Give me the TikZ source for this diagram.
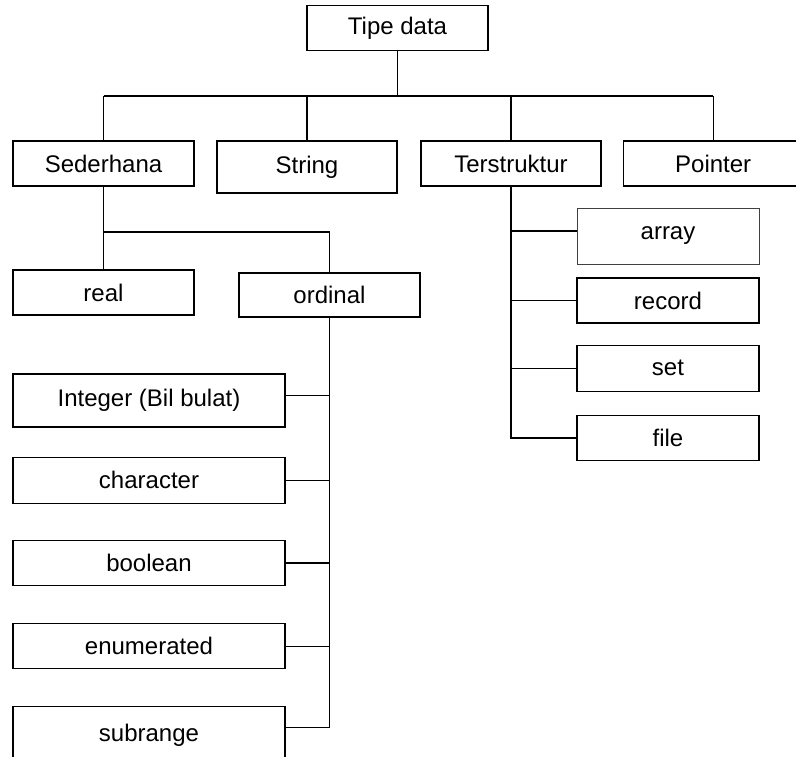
\documentclass[tikz,border=0pt]{standalone}
\usepackage{fontspec}
\setmainfont{Liberation Sans}
\usetikzlibrary{positioning}

\begin{document}
\begin{tikzpicture}[x=1pt,y=-1pt,line width=1.2pt,node distance=20pt,
      box/.style={draw,rectangle,fill=white,inner sep=0pt,minimum width=181pt,
        minimum height=45pt,font=\fontsize{24}{28}\selectfont},
      widebox/.style={box,minimum width=272pt}]

    \path[use as bounding box,clip] (0,0) rectangle (796,756);

    \node[box] (tipe) at (397.5,28) {Tipe data};
    \node[box] (sederhana) at (103.5,163.5) {Sederhana};
    \node[box,minimum width=180pt,minimum height=52pt] (string) at (307,167) {String};
    \node[box,minimum width=180pt] (terstruktur) at (511,163.5) {Terstruktur};
    \node[box,minimum width=180pt] (pointer) [right=21pt of terstruktur] {Pointer};

    \node[box] (real) at (103.5,292.5) {real};
    \node[box,minimum height=44pt] (ordinal) at (329.5,295) {ordinal};

    \node[widebox,minimum height=53pt] (integer) at (149,400.5) {Integer (Bil bulat)};
    \node[widebox,minimum height=46pt] (character) [below=29pt of integer] {character};
    \node[widebox] (boolean) [below=36pt of character] {boolean};
    \node[widebox] (enumerated) [below=37pt of boolean] {enumerated};
    \node[widebox,minimum height=56pt] (subrange) [below=37pt of enumerated] {subrange};

    \node[box,minimum width=182pt,minimum height=56pt,draw=black!75,line width=0.9pt] (array) at (668,236) {array};
    \node[box,minimum width=182pt] (record) [below=13pt of array] {record};
    \node[box,minimum width=182pt,minimum height=46pt] (set) [below=21pt of record] {set};
    \node[box,minimum width=182pt] (file) [below=23pt of set] {file};

    \coordinate (bus) at (0,96);
    \coordinate (fork) at (0,232);

    \draw (tipe.south) -- (tipe.south |- bus);
    \draw (sederhana.north |- bus) -- (pointer.north |- bus);
    \foreach \n in {sederhana,string,terstruktur,pointer}
      \draw (\n.north |- bus) -- (\n.north);

    \draw (sederhana.south) -- (real.north);
    \draw (sederhana.south |- fork) -| (ordinal.north);

    \draw (ordinal.south) |- ([yshift=7pt]subrange.east);
    \draw ([yshift=5pt]integer.east) -- ([yshift=5pt]integer.east -| ordinal.south);
    \foreach \n in {character,boolean,enumerated}
      \draw (\n.east) -- (\n.east -| ordinal.south);

    \draw (terstruktur.south) |- (file.west);
    \draw ([yshift=5pt]array.west) -- ([yshift=5pt]array.west -| terstruktur.south);
    \foreach \n in {record,set}
      \draw (\n.west) -- (\n.west -| terstruktur.south);
  \end{tikzpicture}
\end{document}
